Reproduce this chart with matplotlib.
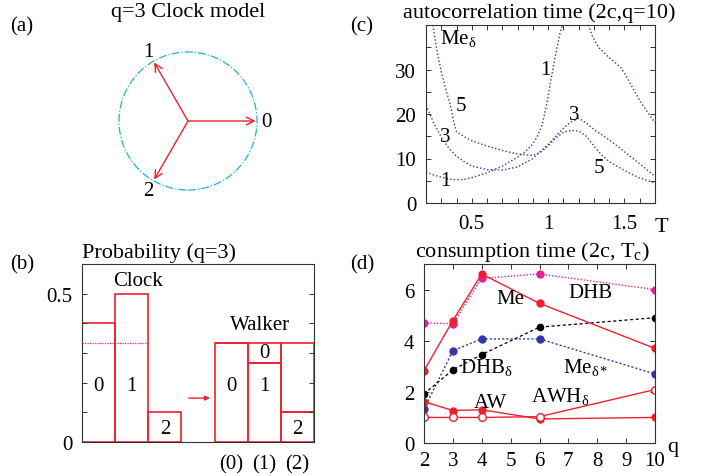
import numpy as np
import matplotlib
matplotlib.use('Agg')
import matplotlib.pyplot as plt
from matplotlib.patches import Circle
from matplotlib.ticker import MultipleLocator, FixedLocator

plt.rcParams['font.family'] = ['Liberation Serif', 'DejaVu Serif']
plt.rcParams['mathtext.fontset'] = 'custom'
plt.rcParams['mathtext.rm'] = 'Liberation Serif'
plt.rcParams['mathtext.it'] = 'Liberation Serif:italic'
plt.rcParams['font.size'] = 15

# ---- data ----
# (a) clock model directions
clock_angles = [0, 120, 240]
clock_labels = ['0', '1', '2']

# (b) probabilities
clock_prob = [0.4, 0.5, 0.1]
clock_state = ['0', '1', '2']
walker_low = [1/3, 0.267, 0.1]
walker_low_lab = ['0', '1', '2']
walker_high = [0.0, 0.067, 0.233]
walker_high_lab = ['', '0', '1']
walker_ticks = ['(0)', '(1)', '(2)']

# (c) autocorrelation time vs T
c1a_T = [0.20, 0.25, 0.30, 0.35, 0.40, 0.45, 0.50, 0.60, 0.70, 0.80, 0.85, 0.90, 0.93, 0.96, 0.99, 1.02, 1.05, 1.08, 1.10]
c1a_tau = [7.0, 6.3, 5.8, 5.4, 5.2, 5.3, 5.7, 6.8, 8.3, 10.3, 11.5, 13.3, 15.0, 17.5, 22.0, 28.0, 33.5, 38.5, 40.5]
c1b_T = [1.265, 1.29, 1.33, 1.38, 1.43, 1.48, 1.52, 1.56, 1.60, 1.65, 1.70]
c1b_tau = [40.0, 37.5, 35.0, 33.3, 31.8, 30.3, 28.0, 25.5, 23.0, 20.5, 18.0]
c3_T = [0.20, 0.25, 0.30, 0.35, 0.40, 0.45, 0.50, 0.60, 0.70, 0.80, 0.90, 1.00, 1.10, 1.15, 1.20, 1.25, 1.30, 1.40, 1.50, 1.60, 1.70]
c3_tau = [22.0, 18.0, 14.8, 12.3, 10.5, 9.3, 8.3, 7.5, 7.4, 8.1, 10.0, 13.2, 16.8, 18.2, 19.0, 18.0, 16.5, 14.2, 11.5, 8.8, 6.0]
c5_T = [0.245, 0.27, 0.30, 0.33, 0.36, 0.38, 0.40, 0.45, 0.50, 0.60, 0.70, 0.80, 0.90, 0.95, 1.00, 1.05, 1.10, 1.15, 1.20, 1.25, 1.30, 1.35, 1.40, 1.50, 1.60, 1.70]
c5_tau = [40.0, 34.5, 29.5, 25.5, 22.0, 18.5, 16.0, 14.9, 14.0, 12.8, 11.8, 11.0, 10.7, 11.4, 12.8, 14.6, 15.9, 16.3, 16.2, 15.0, 12.8, 10.8, 9.3, 7.3, 5.6, 4.5]

# (d) consumption time vs q
q_vals = [2, 3, 4, 6, 10]
t_me = [2.83, 4.79, 6.61, 5.46, 3.70]
t_dhb = [4.70, 4.66, 6.44, 6.61, 6.00]
t_med = [1.33, 3.61, 4.07, 4.07, 2.70]
t_dhbd = [1.92, 2.86, 3.46, 4.53, 4.90]
t_aw = [1.62, 1.27, 1.30, 0.94, 1.00]
t_awh = [1.00, 1.00, 1.00, 1.03, 2.09]

RED = '#ec2130'
MAG = '#e6209c'
BLUE = '#3535a8'
CYAN = '#25aee0'

W, H = 704, 477
fig = plt.figure(figsize=(W/100, H/100), dpi=100)

def box(l, t, r, b):
    return [l/W, 1-b/H, (r-l)/W, (b-t)/H]

def ftext(x, y, s, **kw):
    fig.text(x/W, 1-y/H, s, va='center', **kw)

def style(ax):
    for sp in ax.spines.values():
        sp.set_linewidth(0.8)
        sp.set_color('#333333')
    ax.tick_params(which='both', direction='in', top=True, right=True,
                   length=3.5, width=0.7, color='#333333')

# ---- (a) ----
ax_a = fig.add_axes(box(82, 28, 314, 210))
ax_a.set_xlim(-1.536, 1.826)
ax_a.set_ylim(-1.275, 1.362)
ax_a.axis('off')
ax_a.add_patch(Circle((0, 0), 1.0, fill=False, ec=CYAN, ls='-.', lw=0.9))
for ang, lab in zip(clock_angles, clock_labels):
    a = np.deg2rad(ang)
    ax_a.annotate('', xy=(0.98*np.cos(a), 0.98*np.sin(a)), xytext=(0, 0),
                  arrowprops=dict(arrowstyle='->', color=RED, lw=1.0,
                                  shrinkA=0, shrinkB=0, mutation_scale=14))
    r = 1.13 if ang == 0 else 1.16
    ax_a.text(r*np.cos(a), r*np.sin(a), lab, ha='center', va='center')
ftext(188, 13, 'q=3 Clock model', ha='center', fontsize=16)
ftext(22, 27, '(a)', ha='center')

# ---- (b) ----
ax_b = fig.add_axes(box(82, 265, 314, 443))
style(ax_b)
ax_b.set_xlim(0, 7)
ax_b.set_ylim(0, 0.6)
xc = np.arange(3) + 0.5
xw = np.arange(3) + 4.5
ax_b.bar(xc, clock_prob, width=1, fill=False, edgecolor=RED, lw=1.2)
ax_b.bar(xw, walker_low, width=1, fill=False, edgecolor=RED, lw=1.2)
ax_b.bar(xw, walker_high, width=1, bottom=walker_low, fill=False, edgecolor=RED, lw=1.2)
ax_b.hlines(1/3, 0, 2, colors=MAG, linestyles=(0, (1, 1)), lw=0.9)
for x, h, lab in zip(xc, clock_prob, clock_state):
    ax_b.text(x, 0.19 if h > 0.2 else 0.045, lab, ha='center', va='center')
for x, h, lab in zip(xw, walker_low, walker_low_lab):
    ax_b.text(x, 0.19 if h > 0.2 else 0.045, lab, ha='center', va='center')
for x, lo, h, lab in zip(xw, walker_low, walker_high, walker_high_lab):
    if lab and h < 0.1:
        ax_b.text(x, lo + h/2, lab, ha='center', va='center')
ax_b.text(1.7, 0.545, 'Clock', ha='center', va='center')
ax_b.text(5.37, 0.395, 'Walker', ha='center', va='center')
ax_b.annotate('', xy=(3.86, 0.148), xytext=(3.22, 0.148),
              arrowprops=dict(arrowstyle='-|>', color=RED, lw=1.0,
                              shrinkA=0, shrinkB=0, mutation_scale=7))
ax_b.yaxis.set_major_locator(FixedLocator([0, 0.5]))
ax_b.set_yticklabels(['0', '0.5'])
ax_b.yaxis.set_minor_locator(MultipleLocator(0.1))
ax_b.set_xticks(xw)
ax_b.set_xticklabels(walker_ticks)
ax_b.tick_params(axis='x', which='both', length=0, pad=9)
ax_b.tick_params(axis='y', pad=7)
ftext(82, 253, 'Probability (q=3)', ha='left', fontsize=16)
ftext(22, 265, '(b)', ha='center')

# ---- (c) ----
ax_c = fig.add_axes(box(426, 26, 655, 204))
style(ax_c)
ls_c = (0, (1, 1.6))
for T, tau in [(c1a_T, c1a_tau), (c1b_T, c1b_tau), (c3_T, c3_tau), (c5_T, c5_tau)]:
    ax_c.plot(T, tau, color=BLUE, ls=ls_c, lw=1.0)
ax_c.set_xlim(0.2, 1.7)
ax_c.set_ylim(0, 40)
ax_c.xaxis.set_major_locator(FixedLocator([0.5, 1.0, 1.5]))
ax_c.set_xticklabels(['0.5', '1', '1.5'])
ax_c.xaxis.set_minor_locator(MultipleLocator(0.1))
ax_c.yaxis.set_major_locator(FixedLocator([0, 10, 20, 30]))
ax_c.set_yticklabels(['0', '10', '20', '30'])
ax_c.yaxis.set_minor_locator(MultipleLocator(5))
ax_c.tick_params(axis='x', pad=8)
ax_c.tick_params(axis='y', pad=7)
ax_c.text(0.41, 37.3, 'Me$_\\mathrm{δ}$', ha='center', va='center')
ax_c.text(0.98, 30, '1', ha='center', va='center')
ax_c.text(0.43, 21.8, '5', ha='center', va='center')
ax_c.text(0.325, 15, '3', ha='center', va='center')
ax_c.text(0.325, 5, '1', ha='center', va='center')
ax_c.text(1.17, 20, '3', ha='center', va='center')
ax_c.text(1.33, 8, '5', ha='center', va='center')
ax_c.text(1.03, -0.13, 'T', transform=ax_c.transAxes, ha='center', va='center', fontsize=16)
ftext(539, 13, 'autocorrelation time (2c,q=10)', ha='center', fontsize=16)
ftext(362, 27, '(c)', ha='center')

# ---- (d) ----
ax_d = fig.add_axes(box(424, 265, 655, 444))
style(ax_d)
ms = 5
ax_d.plot(q_vals, t_dhb, color=MAG, ls=(0, (1, 1.3)), lw=1.0, marker='o', ms=ms)
ax_d.plot(q_vals, t_med, color=BLUE, ls=(0, (1.5, 1.5)), lw=1.0, marker='o', ms=ms)
ax_d.plot(q_vals, t_dhbd, color='black', ls=(0, (2.5, 2)), lw=0.9, marker='o', ms=ms*0.9)
ax_d.plot(q_vals, t_me, color=RED, ls='-', lw=1.0, marker='o', ms=ms)
ax_d.plot(q_vals, t_aw, color=RED, ls='-', lw=1.0, marker='o', ms=ms)
ax_d.plot(q_vals, t_awh, color=RED, ls='-', lw=1.0, marker='o', ms=ms+0.5, mfc='white')
ax_d.set_xlim(2, 10)
ax_d.set_ylim(0, 7)
ax_d.xaxis.set_major_locator(MultipleLocator(1))
ax_d.yaxis.set_major_locator(MultipleLocator(2))
ax_d.tick_params(axis='x', pad=6)
ax_d.tick_params(axis='y', pad=7)
ax_d.text(5.0, 5.65, 'Me', ha='center', va='center')
ax_d.text(7.76, 5.9, 'DHB', ha='center', va='center')
ax_d.text(4.17, 3.0, 'DHB$_\\mathrm{δ}$', ha='center', va='center')
ax_d.text(7.6, 3.0, 'Me$_\\mathrm{δ*}$', ha='center', va='center')
ax_d.text(4.3, 1.6, 'AW', ha='center', va='center')
ax_d.text(6.7, 1.85, 'AWH$_\\mathrm{δ}$', ha='center', va='center')
ax_d.text(1.075, -0.02, 'q', transform=ax_d.transAxes, ha='center', va='center', fontsize=16)
ftext(532, 252, 'consumption time (2c, T$_\\mathrm{c}$)', ha='center', fontsize=16)
ftext(362, 265, '(d)', ha='center')

fig.savefig('out.png', dpi=100)
